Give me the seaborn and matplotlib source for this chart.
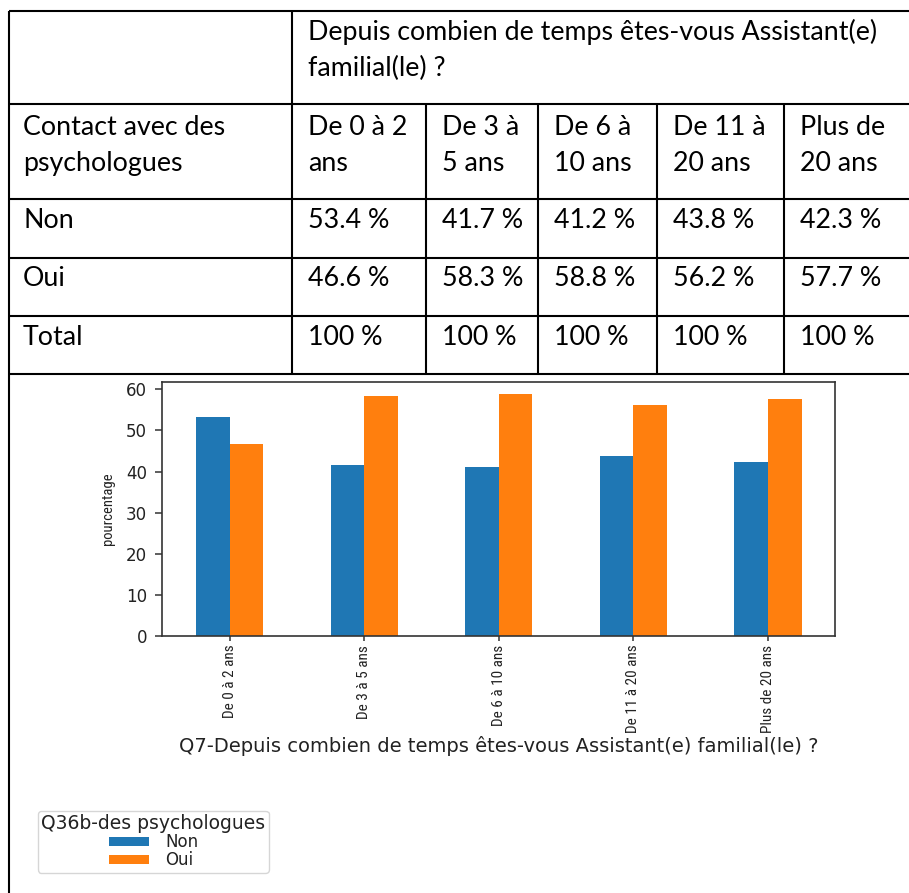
import numpy as np
import pandas as pd
import matplotlib
matplotlib.use("Agg")
import matplotlib.pyplot as plt
from matplotlib import font_manager as fm
import seaborn as sns

# ---- data -------------------------------------------------------------
categories = ["De 0 à 2 ans", "De 3 à 5 ans", "De 6 à 10 ans",
              "De 11 à 20 ans", "Plus de 20 ans"]
header_lines = [["De 0 à 2", "ans"], ["De 3 à", "5 ans"], ["De 6 à", "10 ans"],
                ["De 11 à", "20 ans"], ["Plus de", "20 ans"]]
responses = ["Non", "Oui"]
pct_non = [53.4, 41.7, 41.2, 43.8, 42.3]
pct_oui = [46.6, 58.3, 58.8, 56.2, 57.7]
question_lines = ["Depuis combien de temps êtes-vous Assistant(e)", "familial(le) ?"]
row_title = ["Contact avec des", "psychologues"]
xlabel = "Q7-Depuis combien de temps êtes-vous Assistant(e) familial(le) ?"
ylabel = "pourcentage"
legend_title = "Q36b-des psychologues"
colors = ["#1f77b4", "#ff7f0e"]

# ---- figure -----------------------------------------------------------
W, H = 909, 893
DPI = 100
fig = plt.figure(figsize=(W / DPI, H / DPI), dpi=DPI)
fig.patch.set_facecolor("white")

# page layer in pixel coordinates for the table
page = fig.add_axes([0, 0, 1, 1])
page.set_xlim(0, W)
page.set_ylim(H, 0)
page.axis("off")

tfont = dict(family="Lato", size=19.3, color="black")
lw = 1.5
left, right, top = 8.5, W, 11
col_x = [292, 426, 538, 657, 784]
row_y = [104, 199, 258, 316, 374]

page.vlines(left, top, H, color="black", lw=lw)
page.vlines(col_x[0], top, row_y[-1], color="black", lw=lw)
page.vlines(col_x[1:], row_y[0], row_y[-1], color="black", lw=lw)
page.hlines([top] + row_y, left, right, color="black", lw=lw)

tx0 = 23
cell_x = [c + 16 for c in col_x]
for i, line in enumerate(question_lines):
    page.text(cell_x[0], 40 + 36 * i, line, va="baseline", **tfont)
for i, line in enumerate(row_title):
    page.text(tx0, 135 + 36 * i, line, va="baseline", **tfont)
for x, lines in zip(cell_x, header_lines):
    for i, line in enumerate(lines):
        page.text(x, 135 + 36 * i, line, va="baseline", **tfont)

page.text(tx0, 228, responses[0], va="baseline", **tfont)
page.text(tx0, 286, responses[1], va="baseline", **tfont)
page.text(tx0, 345, "Total", va="baseline", **tfont)
for x, a, b in zip(cell_x, pct_non, pct_oui):
    page.text(x, 228, f"{a:.1f} %", va="baseline", **tfont)
    page.text(x, 286, f"{b:.1f} %", va="baseline", **tfont)
    page.text(x, 345, f"{a + b:.0f} %", va="baseline", **tfont)

# ---- bar chart ----------------------------------------------------------
df = pd.DataFrame({
    "cat": np.repeat(categories, 2),
    legend_title: responses * len(categories),
    "pct": np.ravel(np.column_stack([pct_non, pct_oui])),
})

ax_l, ax_r, ax_t, ax_b = 162.3, 835.3, 382.3, 635.7
ax = fig.add_axes([ax_l / W, 1 - ax_b / H, (ax_r - ax_l) / W, (ax_b - ax_t) / H])
ax.set_facecolor("white")
sns.barplot(data=df, x="cat", y="pct", hue=legend_title, order=categories,
            hue_order=responses, palette=colors, width=0.5, saturation=1,
            linewidth=0, errorbar=None, ax=ax)
ax.set_xlim(-0.5, len(categories) - 0.5)
ax.set_ylim(0, max(pct_non + pct_oui) * 1.05)
ax.set_yticks(range(0, 61, 10))

for s in ax.spines.values():
    s.set_visible(True)
    s.set_color("#333333")
    s.set_linewidth(1.2)

# narrow face for the vertical texts
names = {f.name for f in fm.fontManager.ttflist}
cond = None
for fam in ["Roboto Condensed", "Liberation Sans Narrow"]:
    if fam in names:
        cond = dict(family=fam)
        break
if cond is None:
    cond = dict(family="DejaVu Sans", stretch="condensed")

ax.tick_params(axis="y", labelsize=12, length=5, width=1.1, pad=6, colors="#333333",
               labelcolor="#222222")
ax.tick_params(axis="x", length=3.6, width=1.1, pad=3, colors="#333333")
ax.set_xticks(range(len(categories)))
ax.set_xticklabels(categories, rotation=90, ha="center", va="top", color="#222222",
                   size=10, **cond)
ax.set_ylabel(ylabel, color="#222222", size=10, **cond)
ax.yaxis.set_label_coords(-0.070, 0.5)
ax.set_xlabel(xlabel, fontsize=14, color="#222222", family="DejaVu Sans")
ax.xaxis.set_label_coords(0.5, -0.395)
ax.xaxis.label.set_va("top")

# size the vertical texts so their lengths fit the layout
renderer = fig.canvas.get_renderer()
tick0 = ax.get_xticklabels()[0]
h = tick0.get_window_extent(renderer).height
scale = 73.0 / h
for t in ax.get_xticklabels():
    t.set_fontsize(10 * scale)
yl = ax.yaxis.label
h = yl.get_window_extent(renderer).height
yl.set_fontsize(10 * 72.0 / h)

handles, labels = ax.get_legend_handles_labels()
ax.get_legend().remove()
leg = fig.legend(handles, labels, title=legend_title, loc="upper left",
                 bbox_to_anchor=(38 / W, 1 - 811 / H), borderaxespad=0,
                 fontsize=12, title_fontsize=13.5, labelspacing=0.0,
                 borderpad=0.2, handlelength=2.4, handleheight=0.45,
                 handletextpad=1.0, frameon=True, fancybox=True)
leg.get_frame().set_edgecolor("#cccccc")
leg.get_frame().set_linewidth(1.0)
for t in leg.get_texts():
    t.set_color("#222222")
leg.get_title().set_color("#222222")

fig.savefig("out.png", dpi=DPI, facecolor="white")
